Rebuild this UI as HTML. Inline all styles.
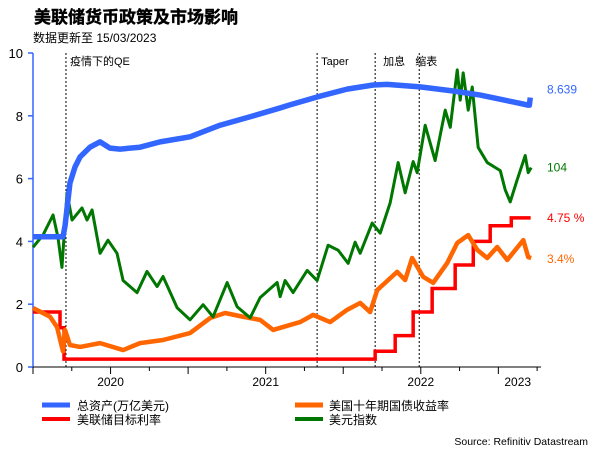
<!DOCTYPE html>
<html><head><meta charset="utf-8"><style>
body{margin:0;background:#fff;width:601px;height:450px;overflow:hidden;font-family:"Liberation Sans","Noto Sans CJK SC",sans-serif}
</style></head><body>
<svg id="chart" width="601" height="450" viewBox="0 0 601 450" xmlns="http://www.w3.org/2000/svg" font-family="Liberation Sans, Noto Sans CJK SC, sans-serif">
<text x="34" y="23" font-size="17" font-weight="bold" fill="#000" stroke="#000" stroke-width="0.4">美联储货币政策及市场影响</text>
<text x="33" y="42" font-size="12" fill="#000">数据更新至 15/03/2023</text>
<g id="axes"></g>
<g id="marks"></g>
<g>
<line x1="42" y1="405" x2="70" y2="405" stroke="#3366ff" stroke-width="5"/>
<text x="77" y="410" font-size="12">总资产(万亿美元)</text>
<line x1="295" y1="405" x2="323" y2="405" stroke="#ff6600" stroke-width="5"/>
<text x="329" y="410" font-size="12">美国十年期国债收益率</text>
<line x1="42" y1="419" x2="70" y2="419" stroke="#ff0000" stroke-width="4"/>
<text x="77" y="424" font-size="12">美联储目标利率</text>
<line x1="295" y1="419" x2="323" y2="419" stroke="#007700" stroke-width="4"/>
<text x="329" y="424" font-size="12">美元指数</text>
</g>
<text x="588" y="445" font-size="10.5" text-anchor="end">Source: Refinitiv Datastream</text>
</svg>
<script>
// months since Jan 2020
const assetsT=[0,2.32,2.48,2.86,3.25,3.64,4.41,5.19,5.96,6.73,8.28,9.83,12.15,14.47,16.8,19.12,19.81,21.98,24.3,26.32,27.4,29.95,32.51,34.6,37.15,38.31,38.4,38.47];
const assetsV=[4.15,4.15,4.5,5.86,6.37,6.69,7.0,7.17,6.97,6.94,7.0,7.17,7.33,7.7,7.97,8.25,8.34,8.6,8.85,8.98,9.0,8.92,8.79,8.66,8.44,8.34,8.34,8.58];
const dxyT=[0,0.77,1.55,1.93,2.24,2.63,3.02,3.79,4.18,4.57,5.19,5.8,6.5,6.97,8.05,8.82,9.6,10.06,11.15,12.15,13.16,13.93,15.02,15.79,16.8,17.57,18.89,19.12,19.5,20.12,21.21,21.98,22.83,23.61,24.38,24.92,25.31,26.24,26.86,27.63,28.25,28.79,29.41,29.72,30.34,31.11,31.89,32.28,32.82,33.05,33.28,33.67,33.98,34.44,35.14,36.15,36.53,36.92,37.46,38.08,38.31,38.54];
const dxyV=[96.4,97.6,99.6,97.4,94.4,101.8,99.1,100.3,99.1,100.1,95.8,97.1,95.8,93.1,91.9,94.0,92.5,93.5,90.4,89.2,90.7,89.5,92.9,90.5,89.4,91.4,92.9,91.5,93.1,91.9,94.1,93.1,96.6,96.1,94.8,96.9,95.8,98.8,97.8,100.8,104.8,101.8,104.9,103.8,108.5,105.0,110.0,108.3,114.0,111.0,113.7,110.0,112.3,106.3,104.8,104.0,102.1,100.9,103.1,105.5,103.8,104.3];
const yieldT=[0,1.32,1.86,2.32,2.48,2.86,3.64,5.19,6.97,8.28,10.06,12.15,13.7,14.86,16.25,17.57,18.58,19.89,20.67,21.67,22.99,24.3,25.31,26.08,26.63,28.17,28.79,29.33,30.19,30.96,32.04,32.82,33.67,34.37,35.14,35.91,36.69,37.93,38.31,38.54];
const yieldV=[1.88,1.6,1.27,0.5,1.18,0.7,0.64,0.76,0.54,0.76,0.86,1.08,1.56,1.72,1.6,1.5,1.18,1.34,1.43,1.66,1.43,1.82,2.04,1.75,2.45,3.03,2.77,3.47,2.87,2.68,3.31,3.95,4.2,3.73,3.47,3.82,3.41,4.04,3.5,3.47];
const rateT=[0,2.09,2.4,26.47,28.02,29.41,30.88,32.66,34.06,35.37,37.0,38.5];
const rateV=[1.75,1.25,0.25,0.5,1.0,1.75,2.5,3.25,4.0,4.5,4.75,4.75];
const eventT=[2.55,21.98,26.47,29.88];
const eventLabels=["疫情下的QE","Taper","加息","缩表"];
const eventDx=[4,4,8,-4];
const yTicks=[0,2,4,6,8,10];
const yearLabels=["2020","2021","2022","2023"];
const yearLabelT=[6,18,30,37.5];
const endLabels=["8.639","104","4.75 %","3.4%"];

const X0=33,X1=541,Y0=367,Y1=53,TMAX=39.3;
const xs=t=>X0+(X1-X0)*t/TMAX;
const ys=v=>Y0-(Y0-Y1)*v/10;
const ysD=d=>ys((d-84.52)/3.115);
const NS="http://www.w3.org/2000/svg";
const axes=document.getElementById('axes'),marks=document.getElementById('marks');
function mk(tag,attrs,parent){const e=document.createElementNS(NS,tag);for(const k in attrs)e.setAttribute(k,attrs[k]);parent.appendChild(e);return e;}

let l=mk('line',{x1:X0,y1:Y1,x2:X0,y2:Y0,stroke:'#3366ff','stroke-width':1.5},axes);


yTicks.forEach(v=>{
  const tk=mk('line',{x1:X0-5,y1:ys(v),x2:X0,y2:ys(v),stroke:'#3366ff','stroke-width':1.5},axes);
  
  
  const tx=mk('text',{x:X0-10,y:ys(v)+5,'font-size':13,'text-anchor':'end',fill:'#000'},axes);
  tx.textContent=v;
  
  
});
l=mk('line',{x1:X0,y1:Y0,x2:X1,y2:Y0,stroke:'#000','stroke-width':1},axes);


for(let m=0;m<=39;m+=3){
  const big=m%6===0;
  const tk=mk('line',{x1:xs(m),y1:Y0,x2:xs(m),y2:Y0+(big?7:4),stroke:'#000','stroke-width':1},axes);
  
  
}
yearLabels.forEach((s,i)=>{
  const tx=mk('text',{x:xs(yearLabelT[i]),y:Y0+19,'font-size':12,'text-anchor':'middle'},axes);
  tx.textContent=s;
  
  
});
eventT.forEach((t,i)=>{
  const ln=mk('line',{x1:xs(t),y1:Y1,x2:xs(t),y2:Y0,stroke:'#000','stroke-width':1,'stroke-dasharray':'2,2'},axes);
  
  
  const tx=mk('text',{x:xs(t)+eventDx[i],y:Y1+12,'font-size':11},axes);
  tx.textContent=eventLabels[i];
  
  
});
function path(T,V,f,step){let d='';T.forEach((t,i)=>{const x=xs(t),y=f(V[i]);if(i===0)d+='M'+x+','+y;else{if(step)d+='L'+x+','+f(V[i-1]);d+='L'+x+','+y;}});return d;}
let p=mk('path',{d:path(rateT,rateV,ys,true),fill:'none',stroke:'#ff0000','stroke-width':3.5},marks);


p=mk('path',{d:path(yieldT,yieldV,ys),fill:'none',stroke:'#ff6600','stroke-width':4.5,'stroke-linejoin':'round'},marks);


p=mk('path',{d:path(dxyT,dxyV,ysD),fill:'none',stroke:'#007700','stroke-width':3,'stroke-linejoin':'round'},marks);


p=mk('path',{d:path(assetsT,assetsV,ys),fill:'none',stroke:'#3366ff','stroke-width':5.5,'stroke-linejoin':'round'},marks);


const endY=[ys(assetsV[assetsV.length-1]),ysD(dxyV[dxyV.length-1]),ys(rateV[rateV.length-1]),ys(yieldV[yieldV.length-1])];
const endC=['#3366ff','#007700','#ff0000','#ff6600'];
endLabels.forEach((s,i)=>{
  const tx=mk('text',{x:547,y:endY[i]+(i===0?-4:i===3?5:4),'font-size':12,fill:endC[i]},marks);
  tx.textContent=s;
  
  
});
</script>
</body></html>
